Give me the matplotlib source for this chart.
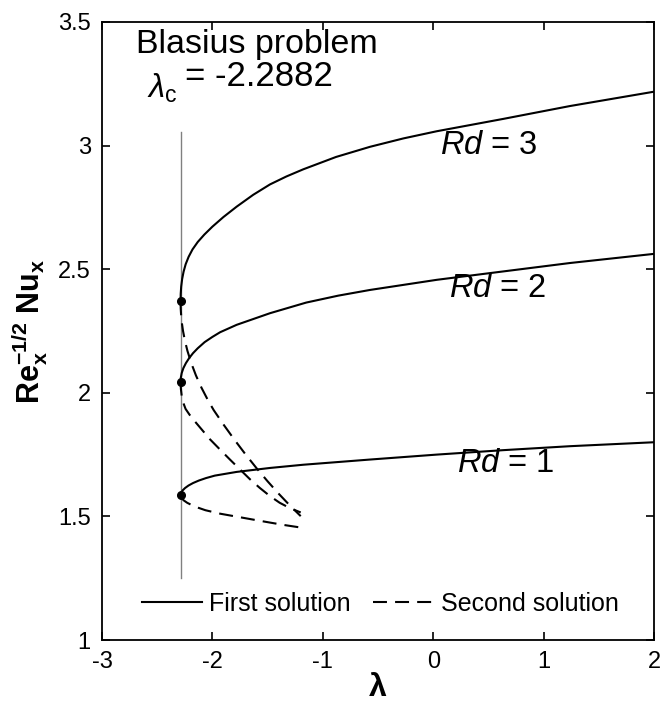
import numpy as np
import matplotlib
matplotlib.use("Agg")
import matplotlib.pyplot as plt

plt.rcParams['font.family'] = ['Liberation Sans', 'DejaVu Sans']
plt.rcParams['mathtext.fontset'] = 'custom'
plt.rcParams['mathtext.rm'] = 'Liberation Sans'
plt.rcParams['mathtext.it'] = 'Liberation Sans:italic'
plt.rcParams['mathtext.bf'] = 'Liberation Sans:bold'
plt.rcParams['axes.unicode_minus'] = False

# critical value
lam_c = -2.2882
y_c = [2.37, 2.045, 1.585]   # Rd = 3, 2, 1 turning points

# first solutions
lam1_rd3 = [lam_c, -2.2869, -2.2824, -2.274, -2.2608, -2.2421, -2.2153, -2.180, -2.1327, -2.073,
            -2.0, -1.9, -1.78, -1.63, -1.478, -1.33, -1.177, -0.88, -0.573, -0.27, 0.032, 0.635, 1.239, 2.0]
f1_rd3 = [2.37, 2.40, 2.43, 2.46, 2.49, 2.52, 2.55, 2.58, 2.61, 2.64,
          2.672, 2.711, 2.753, 2.801, 2.843, 2.875, 2.904, 2.954, 2.995, 3.029, 3.058, 3.108, 3.16, 3.218]

lam1_rd2 = [lam_c, -2.2863, -2.2778, -2.2625, -2.240, -2.211, -2.176, -2.133, -2.070,
            -2.0, -1.93, -1.78, -1.478, -1.15, -0.86, -0.573, 0.032, 0.635, 1.239, 2.0]
f1_rd2 = [2.045, 2.06, 2.08, 2.10, 2.12, 2.14, 2.16, 2.18, 2.205,
          2.226, 2.245, 2.275, 2.322, 2.365, 2.393, 2.416, 2.457, 2.491, 2.525, 2.562]

lam1_rd1 = [lam_c, -2.2837, -2.270, -2.247, -2.216, -2.175, -2.123, -2.058, -1.978,
            -1.78, -1.478, -1.177, -0.573, 0.032, 0.635, 1.239, 2.0]
f1_rd1 = [1.585, 1.595, 1.605, 1.615, 1.625, 1.635, 1.645, 1.655, 1.665,
          1.68, 1.696, 1.709, 1.730, 1.750, 1.768, 1.784, 1.800]

# second solutions
lam2_rd3 = [lam_c, -2.2868, -2.2826, -2.2756, -2.2659, -2.2485, -2.2262, -2.1912, -2.1487, -2.0982,
            -2.0402, -1.9882, -1.9, -1.8, -1.7, -1.6, -1.5, -1.4, -1.3, -1.2]
f2_rd3 = [2.37, 2.34, 2.31, 2.28, 2.25, 2.21, 2.17, 2.12, 2.07, 2.02,
          1.97, 1.93, 1.872, 1.81, 1.751, 1.695, 1.642, 1.592, 1.545, 1.501]

lam2_rd2 = [lam_c, -2.2852, -2.2772, -2.264, -2.243, -2.208, -2.158, -2.088, -2.022,
            -1.93, -1.841, -1.75, -1.659, -1.57, -1.478, -1.39, -1.3, -1.2]
f2_rd2 = [2.045, 2.015, 1.985, 1.96, 1.935, 1.912, 1.884, 1.847, 1.812,
          1.77, 1.73, 1.69, 1.65, 1.615, 1.582, 1.555, 1.534, 1.516]

lam2_rd1 = [lam_c, -2.281, -2.260, -2.228, -2.183, -2.128, -2.063, -1.93, -1.78, -1.63, -1.478, -1.34, -1.2]
f2_rd1 = [1.585, 1.575, 1.565, 1.555, 1.545, 1.535, 1.525, 1.511, 1.499, 1.487, 1.475, 1.4645, 1.455]

rd_labels = ['3', '2', '1']
rd_label_x = [0.06, 0.14, 0.215]
rd_label_y = [3.0, 2.42, 1.716]

xticks = [-3, -2, -1, 0, 1, 2]
yticks = [1, 1.5, 2, 2.5, 3, 3.5]
yticklabels = ['1', '1.5', '2', '2.5', '3', '3.5']

fig = plt.figure(figsize=(6.6, 7.02), dpi=100)
ax = fig.add_axes([0.1545, 0.0883, 0.8365, 0.8804])

ax.plot([lam_c, lam_c], [1.252, 3.053], color='#808080', lw=1.0)

dash = (6.7, 3.9)
ax.plot(lam1_rd3, f1_rd3, 'k-', lw=1.5, label='First solution')
ax.plot(lam1_rd2, f1_rd2, 'k-', lw=1.5)
ax.plot(lam1_rd1, f1_rd1, 'k-', lw=1.5)
ax.plot(lam2_rd3, f2_rd3, 'k--', lw=1.5, dashes=dash, label='Second solution')
ax.plot(lam2_rd2, f2_rd2, 'k--', lw=1.5, dashes=dash)
ax.plot(lam2_rd1, f2_rd1, 'k--', lw=1.5, dashes=dash)
ax.plot([lam_c] * 3, y_c, 'ko', ms=5.5)

for lab, tx, ty in zip(rd_labels, rd_label_x, rd_label_y):
    ax.text(tx, ty, r'$\mathit{Rd}$ = ' + lab, fontsize=23.5, va='center', ha='left')

ax.text(-2.69, 3.375, 'Blasius problem', fontsize=24.5, va='baseline', ha='left')
ax.text(-2.595, 3.195, r'$\lambda_{\mathrm{c}}$', fontsize=23.5, va='baseline', ha='left')
ax.text(-2.245, 3.24, '= -2.2882', fontsize=25, va='baseline', ha='left')

ax.set_xlim(-3, 2)
ax.set_ylim(1, 3.5)
ax.set_xticks(xticks)
ax.set_yticks(yticks)
ax.set_yticklabels(yticklabels)
ax.tick_params(direction='in', length=6, width=1.2, top=True, right=True,
               labelsize=17, pad=8)
for s in ax.spines.values():
    s.set_linewidth(1.3)

ax.set_xlabel('λ', fontsize=23, fontweight='bold', labelpad=0)
ax.set_ylabel(r'$\mathbf{Re_x^{-1/2}\ Nu_x}$', fontsize=22, labelpad=6)

ax.legend(loc='center', bbox_to_anchor=(0.504, 0.058), ncol=2, frameon=False,
          fontsize=18, handlelength=2.4, handletextpad=0.3, columnspacing=0.9)

fig.savefig('out.png', dpi=100)
